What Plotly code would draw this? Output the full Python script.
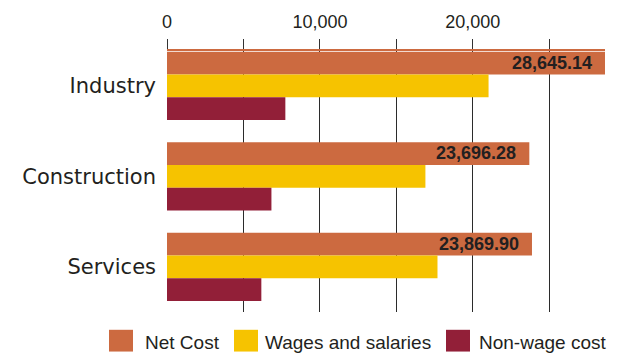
import plotly.graph_objects as go

# Labour cost breakdown by sector
sectors = ["Industry", "Construction", "Services"]
net_cost = [28645.14, 23696.28, 23869.90]
wages = [21030, 16900, 17690]
non_wage = [7740, 6830, 6170]

series_names = ["Net Cost", "Wages and salaries", "Non-wage cost"]
series_values = [net_cost, wages, non_wage]
colors = ["#CC6A40", "#F6C300", "#921F38"]

tick_vals = [0, 5000, 10000, 15000, 20000, 25000]
tick_text = ["0", "", "10,000", "", "20,000", ""]

FONT = "Liberation Sans, Arial, sans-serif"
CAT_FONT = "DejaVu Sans, sans-serif"
TEXT = "#231F20"

fig = go.Figure()
for name, vals, col in zip(series_names, series_values, colors):
    fig.add_trace(go.Bar(
        y=sectors, x=vals, name=name, orientation="h",
        marker=dict(color=col, line=dict(width=0)),
        showlegend=False,
    ))

# value labels at the end of the net cost bars
for s, v in zip(sectors, net_cost):
    fig.add_annotation(
        x=v, y=s, xref="x", yref="y", yshift=23,
        text=f"<b>{v:,.2f}</b>", showarrow=False,
        xanchor="right", yanchor="middle", xshift=-11,
        font=dict(family=FONT, size=18, color=TEXT),
    )

# custom legend with large square swatches
L, R, T, B = 167, 15, 48, 43
W, H = 620 - L - R, 355 - T - B
def px_x(p):
    return (p - L) / W
def px_y(p):
    return (355 - B - p) / H

legend_items = [(109, 143), (234, 263), (446, 477)]
for (sx, tx), name, col in zip(legend_items, series_names, colors):
    fig.add_shape(type="rect", xref="paper", yref="paper",
                  x0=px_x(sx), x1=px_x(sx + 24), y0=px_y(352), y1=px_y(330),
                  fillcolor=col, line=dict(width=0))
    fig.add_annotation(x=px_x(tx), y=px_y(355), xref="paper", yref="paper",
                       text=name, showarrow=False, xanchor="left", yanchor="bottom",
                       font=dict(family=FONT, size=19, color=TEXT))

fig.update_layout(
    width=620, height=355,
    margin=dict(l=L, r=R, t=T, b=B),
    paper_bgcolor="white", plot_bgcolor="white",
    barmode="group", bargap=0.246, bargroupgap=0,
    font=dict(family=FONT, color=TEXT),
    showlegend=False,
    xaxis=dict(
        side="top", range=[0, 28645.14],
        tickvals=tick_vals, ticktext=tick_text,
        ticks="outside", ticklen=10, tickwidth=1.2, tickcolor="#333333",
        showgrid=True, gridcolor="#2b2b2b", gridwidth=1.2,
        showline=True, linecolor="#CC6A40", linewidth=1.5,
        zeroline=False,
        tickfont=dict(family=FONT, size=18, color=TEXT),
        ticklabelstandoff=4,
        fixedrange=True,
    ),
    yaxis=dict(
        range=[2.5, -0.386],
        showgrid=False, zeroline=False, showline=False,
        ticks="", ticklabelstandoff=10,
        tickfont=dict(family=CAT_FONT, size=21, color=TEXT),
        fixedrange=True,
    ),
)

fig.write_html("out.html")
